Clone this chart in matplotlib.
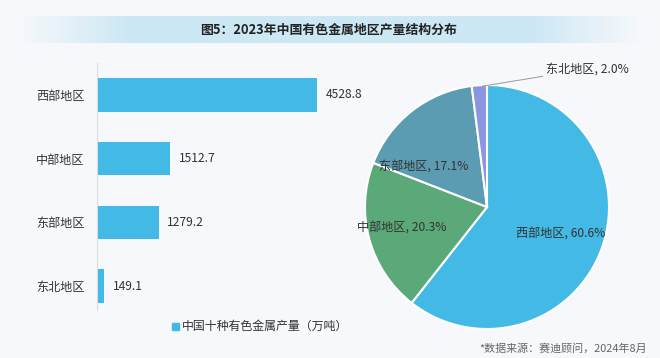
import numpy as np
import matplotlib
matplotlib.use("Agg")
import matplotlib.pyplot as plt

plt.rcParams['font.family'] = ['Noto Sans CJK SC', 'DejaVu Sans']

# data
regions = ["西部地区", "中部地区", "东部地区", "东北地区"]
output = [4528.8, 1512.7, 1279.2, 149.1]          # 万吨
shares = [60.6, 20.3, 17.1, 2.0]                  # %
pie_colors = ["#43B9E5", "#5BA878", "#5C9CB2", "#8C95E2"]
bar_color = "#43B9E5"

title = "图5：2023年中国有色金属地区产量结构分布"
legend_label = "中国十种有色金属产量（万吨）"
source = "*数据来源：赛迪顾问，2024年8月"

W, H = 660, 358
fig = plt.figure(figsize=(W / 100, H / 100), dpi=100, facecolor="#F6F8FB")

def px_axes(x0, y0, x1, y1, **kw):
    # axes from pixel box (top-left origin)
    return fig.add_axes([x0 / W, 1 - y1 / H, (x1 - x0) / W, (y1 - y0) / H], **kw)

# title band with soft gradient
band = px_axes(20, 16, 640, 43)
t = np.linspace(-1, 1, 400)
alpha = np.clip((1 - np.abs(t)) / 0.35, 0, 1)
rgba = np.zeros((1, 400, 4))
rgba[..., :3] = np.array([0.80, 0.91, 0.96])
rgba[..., 3] = alpha
band.imshow(rgba, aspect="auto", extent=[0, 1, 0, 1])
band.axis("off")
fig.text(329 / W, 1 - 30 / H, title, ha="center", va="center",
         fontsize=9.3, fontweight="bold", color="#222222")

# bar chart
axb = px_axes(97, 63, 340, 310)
ypos = np.arange(len(regions))
axb.barh(ypos, output, height=0.52, color=bar_color)
unit = 63.67
axb.set_ylim((310 - 95) / unit, -(95 - 63) / unit)
axb.set_xlim(0, 4528.8 * 243 / 220)
axb.set_yticks(ypos)
axb.set_yticklabels(regions, fontsize=8.7, color="#333333")
axb.tick_params(axis="y", length=0, pad=9)
axb.set_xticks([])
axb.set_facecolor("none")
for s in ["top", "right", "bottom"]:
    axb.spines[s].set_visible(False)
axb.spines["left"].set_color("#D8DDE2")
axb.spines["left"].set_linewidth(0.8)
for y, v in zip(ypos, output):
    axb.text(v + 170, y, f"{v:.1f}", va="center", ha="left",
             fontsize=8.7, color="#333333")

# legend
fig.patches.append(plt.Rectangle((172 / W, 1 - 330 / H), 7 / W, 7 / H,
                                 transform=fig.transFigure, color=bar_color))
fig.text(182 / W, 1 - 326 / H, legend_label, ha="left", va="center",
         fontsize=8.6, color="#333333")

# pie chart
cx, cy, r = 487, 207, 122
axp = px_axes(cx - r, cy - r, cx + r, cy + r)
wedges, _ = axp.pie(shares, colors=pie_colors, startangle=90, counterclock=False,
                    wedgeprops=dict(edgecolor="white", linewidth=1.5))
axp.set_xlim(-1, 1)
axp.set_ylim(-1, 1)
axp.set_aspect("equal")

label_pos = [(0.60, -0.22), (-0.70, -0.17), (-0.52, 0.33)]
for name, pct, (lx, ly) in zip(regions[:3], shares[:3], label_pos):
    axp.text(lx, ly, f"{name}, {pct:.1f}%", ha="center", va="center",
             fontsize=8.7, color="#333333")
axp.annotate(f"{regions[3]}, {shares[3]:.1f}%", xy=(-0.04, 0.99), xytext=(0.48, 1.13),
             ha="left", va="center", fontsize=8.7, color="#333333",
             arrowprops=dict(arrowstyle="-", color="#999999", lw=0.7,
                             shrinkA=0, shrinkB=0),
             annotation_clip=False)

fig.text(647 / W, 1 - 348 / H, source, ha="right", va="center",
         fontsize=7.9, color="#666666")

fig.savefig("out.png", dpi=100, facecolor=fig.get_facecolor())
